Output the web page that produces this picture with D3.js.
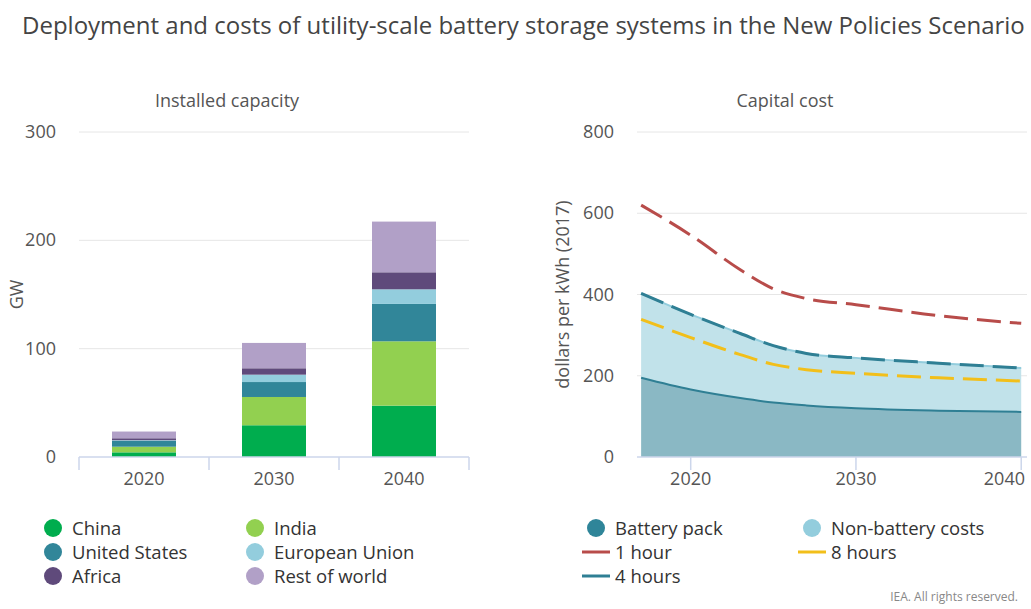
<!DOCTYPE html>
<html>
<head>
<meta charset="utf-8">
<script src="https://cdn.jsdelivr.net/npm/d3@7"></script>
<style>
  body { margin: 0; background: #fff; font-family: "Open Sans", sans-serif; }
  text { font-family: "Open Sans", sans-serif; }
</style>
</head>
<body>
<div id="chart"></div>
<script>
// Left panel: installed capacity (GW)
var barYears = ["2020", "2030", "2040"];
var regions = ["China", "India", "United States", "European Union", "Africa", "Rest of world"];
var china = [4.3, 29.3, 47.4];
var india = [5.2, 26.1, 59.4];
var unitedStates = [5.5, 13.8, 34.5];
var europeanUnion = [0.5, 6.8, 13.5];
var africa = [1.8, 5.9, 15.7];
var restOfWorld = [6.2, 23.4, 46.8];
var capTicks = [0, 100, 200, 300];

// Right panel: capital cost (dollars per kWh, 2017)
var costYears = [2017, 2020, 2023, 2025, 2027, 2030, 2035, 2040];
var batteryPack = [195, 166, 145, 134, 127, 120, 114, 111];
var nonBattery = [208, 185, 159, 140, 128, 124, 117, 108];
var oneHour = [620, 546, 461, 414, 390, 375, 348, 329];
var fourHours = [403, 351, 304, 274, 255, 244, 231, 219];
var eightHours = [339, 294, 252, 228, 215, 206, 195, 187];
var costTicks = [0, 200, 400, 600, 800];
var costXTicks = [2020, 2030, 2040];

function init() {
    var w = 1031, h = 609;
    var svg = d3.select("#chart").append("svg")
        .attr("width", w).attr("height", h);

    var regionColors = ["#00ad4e", "#92d050", "#318699", "#93cddd", "#5f4a7b", "#b1a0c7"];
    var textColor = "#555";
    var tickSize = 18;

    // title
    svg.append("text")
        .attr("x", 22).attr("y", 34)
        .attr("font-size", 24).attr("fill", "#444")
        .text("Deployment and costs of utility-scale battery storage systems in the New Policies Scenario");

    // ---------- left chart ----------
    var L = { left: 79, right: 469, top: 132, bottom: 457 };

    svg.append("text").attr("x", 227).attr("y", 107)
        .attr("text-anchor", "middle").attr("font-size", 18).attr("fill", textColor)
        .text("Installed capacity");

    var xBand = d3.scaleBand().domain(barYears).range([L.left, L.right]).paddingInner(0).paddingOuter(0);
    var yCap = d3.scaleLinear().domain([0, 300]).range([L.bottom, L.top]);

    // grid
    svg.append("g").selectAll("line").data(capTicks.slice(1)).enter().append("line")
        .attr("x1", L.left).attr("x2", L.right)
        .attr("y1", function(d) { return yCap(d); }).attr("y2", function(d) { return yCap(d); })
        .attr("stroke", "#e6e6e6").attr("stroke-width", 1);

    svg.append("g").selectAll("text").data(capTicks).enter().append("text")
        .attr("x", 56).attr("y", function(d) { return yCap(d) + 6; })
        .attr("text-anchor", "end").attr("font-size", tickSize).attr("fill", textColor)
        .text(function(d) { return d; });

    svg.append("text")
        .attr("transform", "translate(23," + (L.top + L.bottom) / 2 + ") rotate(-90)")
        .attr("text-anchor", "middle").attr("font-size", tickSize).attr("fill", textColor)
        .text("GW");

    // stacked bars
    var table = barYears.map(function(y, i) {
        return { year: y, "China": china[i], "India": india[i], "United States": unitedStates[i],
                 "European Union": europeanUnion[i], "Africa": africa[i], "Rest of world": restOfWorld[i] };
    });
    var series = d3.stack().keys(regions)(table);
    var barW = 64;

    var layers = svg.append("g").selectAll("g").data(series).enter().append("g")
        .attr("fill", function(d, i) { return regionColors[i]; });
    layers.selectAll("rect").data(function(d) { return d; }).enter().append("rect")
        .attr("x", function(d) { return xBand(d.data.year) + (xBand.bandwidth() - barW) / 2; })
        .attr("width", barW)
        .attr("y", function(d) { return yCap(d[1]); })
        .attr("height", function(d) { return yCap(d[0]) - yCap(d[1]); });

    // x axis
    var xAxisL = svg.append("g").attr("transform", "translate(0," + L.bottom + ")");
    xAxisL.append("line").attr("x1", L.left).attr("x2", L.right)
        .attr("stroke", "#ccd6eb").attr("stroke-width", 1.5);
    xAxisL.selectAll("line.tick").data([0, 1, 2, 3]).enter().append("line")
        .attr("class", "tick")
        .attr("x1", function(d) { return L.left + d * xBand.step(); })
        .attr("x2", function(d) { return L.left + d * xBand.step(); })
        .attr("y1", 0).attr("y2", 13).attr("stroke", "#ccd6eb").attr("stroke-width", 1.5);
    xAxisL.selectAll("text").data(barYears).enter().append("text")
        .attr("x", function(d) { return xBand(d) + xBand.bandwidth() / 2; })
        .attr("y", 28).attr("text-anchor", "middle").attr("font-size", tickSize).attr("fill", textColor)
        .text(function(d) { return d; });

    // ---------- right chart ----------
    var R = { left: 637, right: 1027, top: 132, bottom: 457 };

    svg.append("text").attr("x", 785).attr("y", 107)
        .attr("text-anchor", "middle").attr("font-size", 18).attr("fill", textColor)
        .text("Capital cost");

    var xYear = d3.scaleLinear().domain([2016.75, 2040.35]).range([R.left, R.right]);
    var yCost = d3.scaleLinear().domain([0, 800]).range([R.bottom, R.top]);

    svg.append("g").selectAll("line").data(costTicks.slice(1)).enter().append("line")
        .attr("x1", R.left).attr("x2", R.right)
        .attr("y1", function(d) { return yCost(d); }).attr("y2", function(d) { return yCost(d); })
        .attr("stroke", "#e6e6e6").attr("stroke-width", 1);

    svg.append("g").selectAll("text").data(costTicks).enter().append("text")
        .attr("x", 614).attr("y", function(d) { return yCost(d) + 6; })
        .attr("text-anchor", "end").attr("font-size", tickSize).attr("fill", textColor)
        .text(function(d) { return d; });

    svg.append("text")
        .attr("transform", "translate(569," + (R.top + R.bottom) / 2 + ") rotate(-90)")
        .attr("text-anchor", "middle").attr("font-size", tickSize).attr("fill", textColor)
        .text("dollars per kWh (2017)");

    var pts = costYears.map(function(y, i) {
        return { year: y, battery: batteryPack[i], nonBattery: nonBattery[i] };
    });
    var costStack = d3.stack().keys(["battery", "nonBattery"])(pts);
    var curve = d3.curveMonotoneX;
    var area = d3.area().curve(curve)
        .x(function(d) { return xYear(d.data.year); })
        .y0(function(d) { return yCost(d[0]); })
        .y1(function(d) { return yCost(d[1]); });
    var areaColors = ["#8ab8c4", "#c1e2ea"];
    var edgeColors = ["#2f7f94", "#93cddd"];

    svg.append("g").selectAll("path.area").data(costStack).enter().append("path")
        .attr("class", "area")
        .attr("d", area)
        .attr("fill", function(d, i) { return areaColors[i]; });

    var edge = d3.line().curve(curve)
        .x(function(d) { return xYear(d.data.year); })
        .y(function(d) { return yCost(d[1]); });
    svg.append("g").selectAll("path.edge").data(costStack).enter().append("path")
        .attr("class", "edge")
        .attr("d", edge).attr("fill", "none")
        .attr("stroke", function(d, i) { return edgeColors[i]; })
        .attr("stroke-width", 2);

    var line = d3.line().curve(curve)
        .x(function(d, i) { return xYear(costYears[i]); })
        .y(function(d) { return yCost(d); });
    var lines = [
        { values: oneHour, color: "#b84c4a" },
        { values: fourHours, color: "#2f7f94" },
        { values: eightHours, color: "#f2bf1a" }
    ];
    svg.append("g").selectAll("path.line").data(lines).enter().append("path")
        .attr("class", "line")
        .attr("d", function(d) { return line(d.values); })
        .attr("fill", "none")
        .attr("stroke", function(d) { return d.color; })
        .attr("stroke-width", 3)
        .attr("stroke-dasharray", "24,9");

    var xAxisR = svg.append("g").attr("transform", "translate(0," + R.bottom + ")");
    xAxisR.append("line").attr("x1", R.left).attr("x2", R.right)
        .attr("stroke", "#ccd6eb").attr("stroke-width", 1.5);
    xAxisR.selectAll("line.tick").data(costXTicks).enter().append("line")
        .attr("class", "tick")
        .attr("x1", function(d) { return xYear(d); }).attr("x2", function(d) { return xYear(d); })
        .attr("y1", 0).attr("y2", 13).attr("stroke", "#ccd6eb").attr("stroke-width", 1.5);
    // last label is pulled inside the chart edge
    xAxisR.selectAll("text").data(costXTicks).enter().append("text")
        .attr("x", function(d, i) { return i === costXTicks.length - 1 ? w - 6 : xYear(d); })
        .attr("y", 28)
        .attr("text-anchor", function(d, i) { return i === costXTicks.length - 1 ? "end" : "middle"; })
        .attr("font-size", tickSize).attr("fill", textColor)
        .text(function(d) { return d; });

    // ---------- legends ----------
    var legendSize = 18.5;
    var leftLegend = regions.map(function(r, i) {
        return { name: r, color: regionColors[i], col: i % 2, row: Math.floor(i / 2) };
    });
    var lg = svg.append("g").selectAll("g").data(leftLegend).enter().append("g")
        .attr("transform", function(d) { return "translate(" + (53 + d.col * 202) + "," + (528 + d.row * 24) + ")"; });
    lg.append("circle").attr("r", 9).attr("fill", function(d) { return d.color; });
    lg.append("text").attr("x", 19).attr("y", 6.5).attr("font-size", legendSize).attr("fill", "#333")
        .text(function(d) { return d.name; });

    var rightLegend = [
        { name: "Battery pack", color: "#2f8599", type: "circle", col: 0, row: 0 },
        { name: "Non-battery costs", color: "#93cddd", type: "circle", col: 1, row: 0 },
        { name: "1 hour", color: "#b84c4a", type: "line", col: 0, row: 1 },
        { name: "8 hours", color: "#f2bf1a", type: "line", col: 1, row: 1 },
        { name: "4 hours", color: "#2f7f94", type: "line", col: 0, row: 2 }
    ];
    var rg = svg.append("g").selectAll("g").data(rightLegend).enter().append("g")
        .attr("transform", function(d) { return "translate(" + (596 + d.col * 216) + "," + (528 + d.row * 24) + ")"; });
    rg.filter(function(d) { return d.type === "circle"; }).append("circle")
        .attr("r", 9).attr("fill", function(d) { return d.color; });
    rg.filter(function(d) { return d.type === "line"; }).append("line")
        .attr("x1", -14).attr("x2", 14).attr("y1", 0).attr("y2", 0)
        .attr("stroke", function(d) { return d.color; }).attr("stroke-width", 3);
    rg.append("text").attr("x", 19).attr("y", 6.5).attr("font-size", legendSize).attr("fill", "#333")
        .text(function(d) { return d.name; });

    svg.append("text").attr("x", 1018).attr("y", 601)
        .attr("text-anchor", "end").attr("font-size", 12).attr("fill", "#888")
        .text("IEA. All rights reserved.");
}

window.onload = init;
</script>
</body>
</html>
